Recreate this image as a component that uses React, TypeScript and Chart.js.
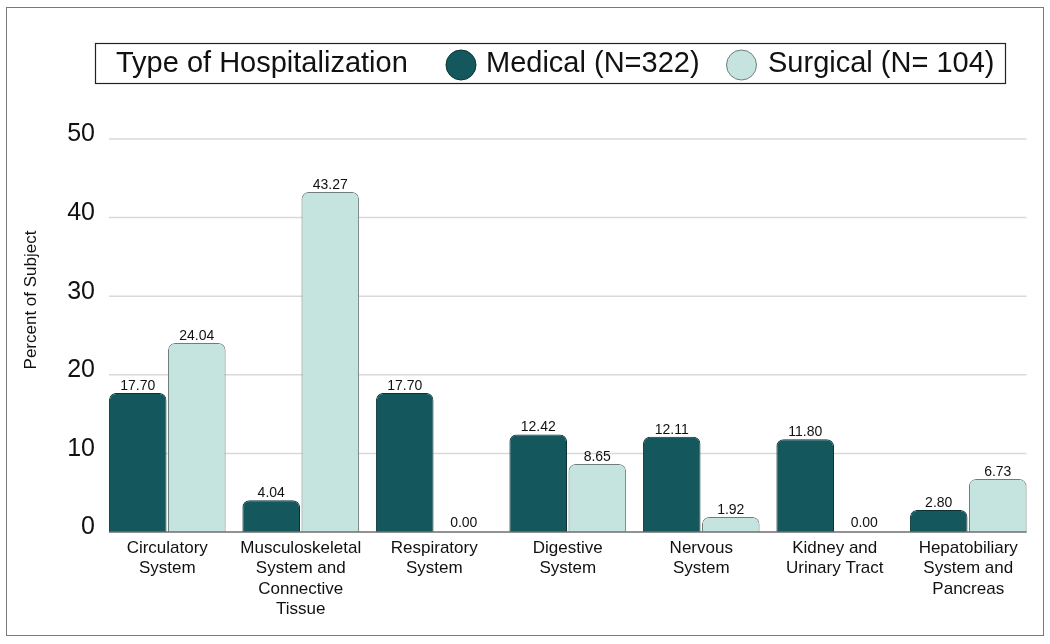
import React, { useEffect, useRef } from "react";
import { Chart, registerables } from "chart.js";

Chart.register(...registerables);

const categories: string[][] = [
  ["Circulatory", "System"],
  ["Musculoskeletal", "System and", "Connective", "Tissue"],
  ["Respiratory", "System"],
  ["Digestive", "System"],
  ["Nervous", "System"],
  ["Kidney and", "Urinary Tract"],
  ["Hepatobiliary", "System and", "Pancreas"],
];
const medicalValues = [17.7, 4.04, 17.7, 12.42, 12.11, 11.8, 2.8];
const surgicalValues = [24.04, 43.27, 0.0, 8.65, 1.92, 0.0, 6.73];
const seriesNames = ["Medical (N=322)", "Surgical (N= 104)"];
const legendTitle = "Type of Hospitalization";
const yAxisTitle = "Percent of Subject";
const yTicks = [0, 10, 20, 30, 40, 50];

const FONT = "'Liberation Sans', Arial, Helvetica, sans-serif";
const MED_FILL = "#14575d";
const MED_BORDER = "#0b3336";
const SUR_FILL = "#c5e4df";
const SUR_BORDER = "#6f7d7b";

const gridPlugin = {
  id: "customGrid",
  beforeDatasetsDraw(chart: any) {
    const ctx = chart.ctx;
    const y = chart.scales.y;
    const m0 = chart.getDatasetMeta(0).data;
    const m1 = chart.getDatasetMeta(1).data;
    const first: any = m0[0];
    const last: any = m1[m1.length - 1];
    const left = first.x - first.width / 2;
    const right = last.x + last.width / 2;
    ctx.save();
    ctx.strokeStyle = "#d9d9d9";
    ctx.lineWidth = 1.5;
    yTicks.forEach((t) => {
      if (t === 0) return;
      const py = y.getPixelForValue(t);
      ctx.beginPath();
      ctx.moveTo(left, py);
      ctx.lineTo(right, py);
      ctx.stroke();
    });
    ctx.restore();
  },
  afterDatasetsDraw(chart: any) {
    const ctx = chart.ctx;
    const y = chart.scales.y;
    const m0 = chart.getDatasetMeta(0).data;
    const m1 = chart.getDatasetMeta(1).data;
    const first: any = m0[0];
    const last: any = m1[m1.length - 1];
    const left = first.x - first.width / 2;
    const right = last.x + last.width / 2;
    const base = y.getPixelForValue(0);
    ctx.save();
    ctx.strokeStyle = "#6e6e6e";
    ctx.lineWidth = 1.5;
    ctx.beginPath();
    ctx.moveTo(left, base);
    ctx.lineTo(right, base);
    ctx.stroke();
    // data labels
    ctx.fillStyle = "#111";
    ctx.font = `14px ${FONT}`;
    ctx.textAlign = "center";
    ctx.textBaseline = "alphabetic";
    [0, 1].forEach((di) => {
      const meta = chart.getDatasetMeta(di);
      const vals = di === 0 ? medicalValues : surgicalValues;
      meta.data.forEach((el: any, i: number) => {
        const ty = Math.min(el.y - 3, base - 5);
        ctx.fillText(vals[i].toFixed(2), el.x, ty);
      });
    });
    ctx.restore();
  },
};

const decorPlugin = {
  id: "decor",
  afterDraw(chart: any) {
    const ctx = chart.ctx;
    ctx.save();
    // legend box
    ctx.strokeStyle = "#222";
    ctx.lineWidth = 1.2;
    ctx.strokeRect(88.5, 35.5, 910, 40);
    ctx.fillStyle = "#111";
    ctx.font = `29px ${FONT}`;
    ctx.textBaseline = "middle";
    ctx.textAlign = "left";
    ctx.fillText(legendTitle, 109, 56);
    // medical marker
    ctx.beginPath();
    ctx.arc(454, 57, 15, 0, Math.PI * 2);
    ctx.fillStyle = MED_FILL;
    ctx.fill();
    ctx.strokeStyle = MED_BORDER;
    ctx.lineWidth = 1;
    ctx.stroke();
    ctx.fillStyle = "#111";
    ctx.fillText(seriesNames[0], 479, 56);
    // surgical marker
    ctx.beginPath();
    ctx.arc(734.5, 57, 15, 0, Math.PI * 2);
    ctx.fillStyle = SUR_FILL;
    ctx.fill();
    ctx.strokeStyle = SUR_BORDER;
    ctx.lineWidth = 1;
    ctx.stroke();
    ctx.fillStyle = "#111";
    ctx.fillText(seriesNames[1], 761, 56);
    // y-axis title
    ctx.translate(24, 292);
    ctx.rotate(-Math.PI / 2);
    ctx.font = `17px ${FONT}`;
    ctx.textAlign = "center";
    ctx.textBaseline = "middle";
    ctx.fillText(yAxisTitle, 0, 0);
    ctx.restore();
  },
};

export default function App() {
  const canvasRef = useRef<HTMLCanvasElement | null>(null);

  useEffect(() => {
    if (!canvasRef.current) return;
    const chart = new Chart(canvasRef.current, {
      type: "bar",
      data: {
        labels: categories,
        datasets: [
          {
            label: seriesNames[0],
            data: medicalValues,
            backgroundColor: MED_FILL,
            borderColor: MED_BORDER,
            borderWidth: 1,
            borderRadius: { topLeft: 7, topRight: 7, bottomLeft: 0, bottomRight: 0 },
            borderSkipped: "bottom",
            categoryPercentage: 0.885,
            barPercentage: 0.975,
          },
          {
            label: seriesNames[1],
            data: surgicalValues,
            backgroundColor: SUR_FILL,
            borderColor: SUR_BORDER,
            borderWidth: 1,
            borderRadius: { topLeft: 7, topRight: 7, bottomLeft: 0, bottomRight: 0 },
            borderSkipped: "bottom",
            categoryPercentage: 0.885,
            barPercentage: 0.975,
          },
        ],
      },
      options: {
        animation: false,
        responsive: true,
        maintainAspectRatio: false,
        layout: { padding: { top: 131, right: 8, left: 0, bottom: 0 } },
        plugins: {
          legend: { display: false },
          tooltip: { enabled: false },
          title: { display: false },
        },
        scales: {
          x: {
            grid: { display: false, drawTicks: false },
            border: { display: false },
            ticks: {
              color: "#111",
              font: { family: FONT, size: 17, lineHeight: 1.2 },
              padding: 6,
              maxRotation: 0,
              autoSkip: false,
            },
            afterFit: (scale: any) => {
              scale.height = 103;
            },
          },
          y: {
            min: 0,
            max: 50,
            grid: { display: false, drawTicks: false },
            border: { display: false },
            afterBuildTicks: (scale: any) => {
              scale.ticks = yTicks.map((v) => ({ value: v }));
            },
            ticks: {
              color: "#111",
              font: { family: FONT, size: 25 },
              padding: 5.5,
              labelOffset: -4.5,
            },
            afterFit: (scale: any) => {
              scale.width = 93.5;
            },
          },
        },
      },
      plugins: [gridPlugin, decorPlugin],
    } as any);
    return () => chart.destroy();
  }, []);

  return (
    <div
      style={{
        position: "absolute",
        left: 6,
        top: 7,
        width: 1038,
        height: 629,
        border: "1px solid #7a7a7a",
        boxSizing: "border-box",
        background: "#fff",
      }}
    >
      <div style={{ position: "relative", width: 1036, height: 627 }}>
        <canvas ref={canvasRef} />
      </div>
    </div>
  );
}
